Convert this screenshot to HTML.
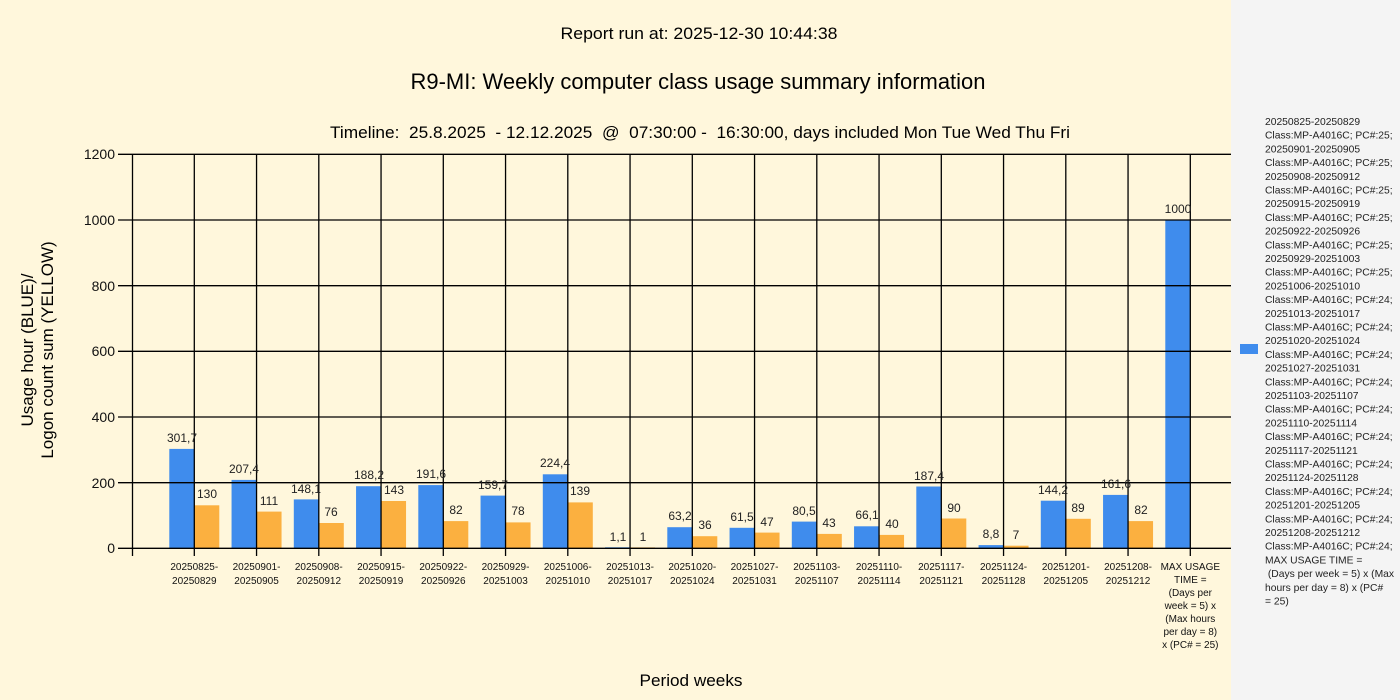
<!DOCTYPE html>
<html><head><meta charset="utf-8"><style>
html,body{margin:0;padding:0;background:#fff7dc;}
svg{display:block;font-family:"Liberation Sans","DejaVu Sans",sans-serif;}
</style></head><body>
<svg width="1400" height="700" viewBox="0 0 1400 700" xmlns="http://www.w3.org/2000/svg">
<rect x="0" y="0" width="1231" height="700" fill="#fff7dc"/>
<rect x="1231" y="0" width="169" height="700" fill="#f4f4f4"/>
<g fill="#000" text-anchor="middle">
<text x="699" y="39" font-size="17" textLength="277" lengthAdjust="spacingAndGlyphs">Report run at: 2025-12-30 10:44:38</text>
<text x="698" y="89" font-size="22" textLength="575" lengthAdjust="spacingAndGlyphs">R9-MI: Weekly computer class usage summary information</text>
<text x="700" y="138" font-size="17" xml:space="preserve" textLength="740" lengthAdjust="spacingAndGlyphs">Timeline:  25.8.2025  - 12.12.2025  @  07:30:00 -  16:30:00, days included Mon Tue Wed Thu Fri</text>
<text x="691" y="686" font-size="17" textLength="103" lengthAdjust="spacingAndGlyphs">Period weeks</text>
<text transform="translate(33,350) rotate(-90)" font-size="17">Usage hour (BLUE)/</text>
<text transform="translate(53,350) rotate(-90)" font-size="17">Logon count sum (YELLOW)</text>
</g>
<g fill="#3f8ced">
<rect x="169.3" y="448.9" width="25" height="99.1"/>
<rect x="231.55" y="479.9" width="25" height="68.1"/>
<rect x="293.8" y="499.4" width="25" height="48.6"/>
<rect x="356.05" y="486.2" width="25" height="61.8"/>
<rect x="418.3" y="485.1" width="25" height="62.9"/>
<rect x="480.55" y="495.6" width="25" height="52.4"/>
<rect x="542.8" y="474.3" width="25" height="73.7"/>
<rect x="605.05" y="547.3" width="25" height="0.7"/>
<rect x="667.3" y="527.2" width="25" height="20.8"/>
<rect x="729.55" y="527.8" width="25" height="20.2"/>
<rect x="791.8" y="521.6" width="25" height="26.4"/>
<rect x="854.05" y="526.3" width="25" height="21.7"/>
<rect x="916.3" y="486.5" width="25" height="61.5"/>
<rect x="978.55" y="545.1" width="25" height="2.9"/>
<rect x="1040.8" y="500.7" width="25" height="47.3"/>
<rect x="1103.05" y="494.9" width="25" height="53.1"/>
<rect x="1165.3" y="219.7" width="25" height="328.3"/>
</g>
<g fill="#fbb040">
<rect x="194.3" y="505.3" width="25" height="42.7"/>
<rect x="256.55" y="511.6" width="25" height="36.4"/>
<rect x="318.8" y="523" width="25" height="25"/>
<rect x="381.05" y="501" width="25" height="47"/>
<rect x="443.3" y="521.1" width="25" height="26.9"/>
<rect x="505.55" y="522.4" width="25" height="25.6"/>
<rect x="567.8" y="502.4" width="25" height="45.6"/>
<rect x="630.05" y="547.4" width="25" height="0.6"/>
<rect x="692.3" y="536.2" width="25" height="11.8"/>
<rect x="754.55" y="532.6" width="25" height="15.4"/>
<rect x="816.8" y="533.9" width="25" height="14.1"/>
<rect x="879.05" y="534.9" width="25" height="13.1"/>
<rect x="941.3" y="518.5" width="25" height="29.5"/>
<rect x="1003.55" y="545.7" width="25" height="2.3"/>
<rect x="1065.8" y="518.8" width="25" height="29.2"/>
<rect x="1128.05" y="521.1" width="25" height="26.9"/>
</g>
<g stroke="#000" stroke-width="1.3">
<line x1="118" y1="154.3" x2="1231" y2="154.3"/>
<line x1="118" y1="220" x2="1231" y2="220"/>
<line x1="118" y1="285.7" x2="1231" y2="285.7"/>
<line x1="118" y1="351.3" x2="1231" y2="351.3"/>
<line x1="118" y1="417" x2="1231" y2="417"/>
<line x1="118" y1="482.7" x2="1231" y2="482.7"/>
<line x1="118" y1="548.3" x2="1231" y2="548.3"/>
<line x1="132.5" y1="154" x2="132.5" y2="556"/>
<line x1="194.3" y1="154" x2="194.3" y2="556"/>
<line x1="256.55" y1="154" x2="256.55" y2="556"/>
<line x1="318.8" y1="154" x2="318.8" y2="556"/>
<line x1="381.05" y1="154" x2="381.05" y2="556"/>
<line x1="443.3" y1="154" x2="443.3" y2="556"/>
<line x1="505.55" y1="154" x2="505.55" y2="556"/>
<line x1="567.8" y1="154" x2="567.8" y2="556"/>
<line x1="630.05" y1="154" x2="630.05" y2="556"/>
<line x1="692.3" y1="154" x2="692.3" y2="556"/>
<line x1="754.55" y1="154" x2="754.55" y2="556"/>
<line x1="816.8" y1="154" x2="816.8" y2="556"/>
<line x1="879.05" y1="154" x2="879.05" y2="556"/>
<line x1="941.3" y1="154" x2="941.3" y2="556"/>
<line x1="1003.55" y1="154" x2="1003.55" y2="556"/>
<line x1="1065.8" y1="154" x2="1065.8" y2="556"/>
<line x1="1128.05" y1="154" x2="1128.05" y2="556"/>
<line x1="1190.3" y1="154" x2="1190.3" y2="556"/>
</g>
<g font-size="14" text-anchor="end" fill="#111">
<text x="115" y="159">1200</text>
<text x="115" y="225">1000</text>
<text x="115" y="291">800</text>
<text x="115" y="356">600</text>
<text x="115" y="422">400</text>
<text x="115" y="488">200</text>
<text x="115" y="553">0</text>
</g>
<g font-size="12" text-anchor="middle" fill="#222">
<text x="182" y="442">301,7</text><text x="207" y="498">130</text>
<text x="244" y="473">207,4</text><text x="269" y="505">111</text>
<text x="306" y="493">148,1</text><text x="331" y="516">76</text>
<text x="369" y="479">188,2</text><text x="394" y="494">143</text>
<text x="431" y="478">191,6</text><text x="456" y="514">82</text>
<text x="493" y="489">159,7</text><text x="518" y="515">78</text>
<text x="555" y="467">224,4</text><text x="580" y="495">139</text>
<text x="618" y="541">1,1</text><text x="643" y="541">1</text>
<text x="680" y="520">63,2</text><text x="705" y="529">36</text>
<text x="742" y="521">61,5</text><text x="767" y="526">47</text>
<text x="804" y="515">80,5</text><text x="829" y="527">43</text>
<text x="867" y="519">66,1</text><text x="892" y="528">40</text>
<text x="929" y="480">187,4</text><text x="954" y="512">90</text>
<text x="991" y="538">8,8</text><text x="1016" y="539">7</text>
<text x="1053" y="494">144,2</text><text x="1078" y="512">89</text>
<text x="1116" y="488">161,6</text><text x="1141" y="514">82</text>
<text x="1178" y="213">1000</text>
</g>
<g font-size="10" text-anchor="middle" fill="#111">
<text x="194.3" y="570">20250825-</text><text x="194.3" y="584">20250829</text>
<text x="256.55" y="570">20250901-</text><text x="256.55" y="584">20250905</text>
<text x="318.8" y="570">20250908-</text><text x="318.8" y="584">20250912</text>
<text x="381.05" y="570">20250915-</text><text x="381.05" y="584">20250919</text>
<text x="443.3" y="570">20250922-</text><text x="443.3" y="584">20250926</text>
<text x="505.55" y="570">20250929-</text><text x="505.55" y="584">20251003</text>
<text x="567.8" y="570">20251006-</text><text x="567.8" y="584">20251010</text>
<text x="630.05" y="570">20251013-</text><text x="630.05" y="584">20251017</text>
<text x="692.3" y="570">20251020-</text><text x="692.3" y="584">20251024</text>
<text x="754.55" y="570">20251027-</text><text x="754.55" y="584">20251031</text>
<text x="816.8" y="570">20251103-</text><text x="816.8" y="584">20251107</text>
<text x="879.05" y="570">20251110-</text><text x="879.05" y="584">20251114</text>
<text x="941.3" y="570">20251117-</text><text x="941.3" y="584">20251121</text>
<text x="1003.55" y="570">20251124-</text><text x="1003.55" y="584">20251128</text>
<text x="1065.8" y="570">20251201-</text><text x="1065.8" y="584">20251205</text>
<text x="1128.05" y="570">20251208-</text><text x="1128.05" y="584">20251212</text>
<text x="1190.3" y="570">MAX USAGE</text>
<text x="1190.3" y="583">TIME =</text>
<text x="1190.3" y="596"> (Days per</text>
<text x="1190.3" y="609">week = 5) x</text>
<text x="1190.3" y="622">(Max hours</text>
<text x="1190.3" y="635">per day = 8)</text>
<text x="1190.3" y="648">x (PC# = 25)</text>
</g>
<rect x="1240" y="344" width="18" height="10" fill="#3f8ced"/>
<g font-size="10.3" fill="#222">
<text x="1265" y="125">20250825-20250829</text>
<text x="1265" y="138.7">Class:MP-A4016C; PC#:25;</text>
<text x="1265" y="152.4">20250901-20250905</text>
<text x="1265" y="166.1">Class:MP-A4016C; PC#:25;</text>
<text x="1265" y="179.8">20250908-20250912</text>
<text x="1265" y="193.5">Class:MP-A4016C; PC#:25;</text>
<text x="1265" y="207.2">20250915-20250919</text>
<text x="1265" y="220.9">Class:MP-A4016C; PC#:25;</text>
<text x="1265" y="234.6">20250922-20250926</text>
<text x="1265" y="248.3">Class:MP-A4016C; PC#:25;</text>
<text x="1265" y="262">20250929-20251003</text>
<text x="1265" y="275.7">Class:MP-A4016C; PC#:25;</text>
<text x="1265" y="289.4">20251006-20251010</text>
<text x="1265" y="303.1">Class:MP-A4016C; PC#:24;</text>
<text x="1265" y="316.8">20251013-20251017</text>
<text x="1265" y="330.5">Class:MP-A4016C; PC#:24;</text>
<text x="1265" y="344.2">20251020-20251024</text>
<text x="1265" y="357.9">Class:MP-A4016C; PC#:24;</text>
<text x="1265" y="371.6">20251027-20251031</text>
<text x="1265" y="385.3">Class:MP-A4016C; PC#:24;</text>
<text x="1265" y="399">20251103-20251107</text>
<text x="1265" y="412.7">Class:MP-A4016C; PC#:24;</text>
<text x="1265" y="426.4">20251110-20251114</text>
<text x="1265" y="440.1">Class:MP-A4016C; PC#:24;</text>
<text x="1265" y="453.8">20251117-20251121</text>
<text x="1265" y="467.5">Class:MP-A4016C; PC#:24;</text>
<text x="1265" y="481.2">20251124-20251128</text>
<text x="1265" y="494.9">Class:MP-A4016C; PC#:24;</text>
<text x="1265" y="508.6">20251201-20251205</text>
<text x="1265" y="522.3">Class:MP-A4016C; PC#:24;</text>
<text x="1265" y="536">20251208-20251212</text>
<text x="1265" y="549.7">Class:MP-A4016C; PC#:24;</text>
<text x="1265" y="563.4">MAX USAGE TIME =</text>
<text x="1265" y="577.1" xml:space="preserve"> (Days per week = 5) x (Max</text>
<text x="1265" y="590.8">hours per day = 8) x (PC#</text>
<text x="1265" y="604.5">= 25)</text>
</g>
</svg>
</body></html>
